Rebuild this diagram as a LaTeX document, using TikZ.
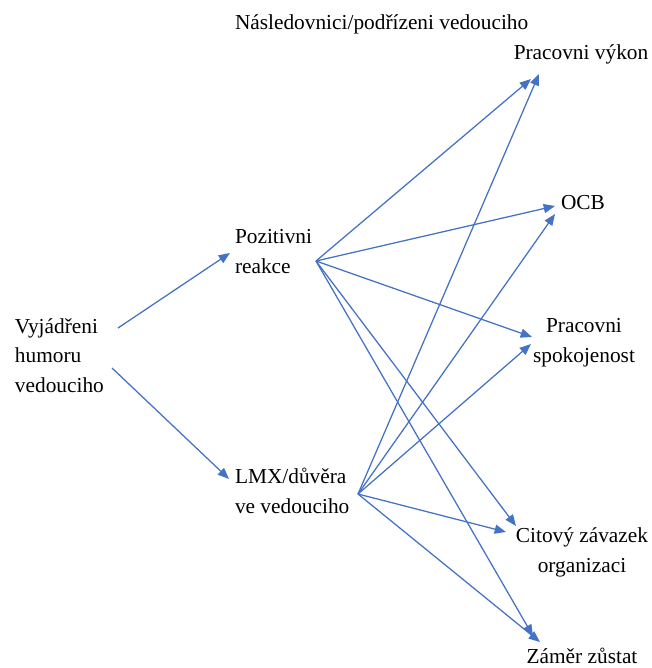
\documentclass[tikz,border=0pt]{standalone}
\usepackage{fontspec}
\setmainfont{Liberation Serif}
\usetikzlibrary{arrows.meta}
\definecolor{lineblue}{HTML}{4472C4}
\begin{document}
\begin{tikzpicture}[x=0.75pt,y=-0.75pt,
  lbl/.style={inner sep=0pt,outer sep=0pt,font=\fontsize{16}{21.9}\selectfont,anchor=base west,align=left},
  lblc/.style={inner sep=0pt,outer sep=0pt,font=\fontsize{16}{21.9}\selectfont,anchor=base,align=center},
  link/.style={draw=lineblue,line width=0.95pt,-{Triangle[length=8.5pt,width=6.8pt]}}]
\useasboundingbox (0,0) rectangle (651,668);
% labels (base anchor = baseline of last line)
\node[lbl] (title) at (235,29) {Následovnici/podřízeni vedouciho};
\node[lbl] (humor) at (15,392) {Vyjádřeni\\humoru\\vedouciho};
\node[lbl] (poz) at (235,273) {Pozitivni\\reakce};
\node[lbl] (lmx) at (235,513) {LMX/důvěra\\ve vedouciho};
\node[lblc] (vykon) at (581,59) {Pracovni výkon};
\node[lblc] (ocb) at (583,209) {OCB};
\node[lblc] (spok) at (584,362) {Pracovni\\spokojenost};
\node[lblc] (cit) at (582,572) {Citový závazek\\organizaci};
\node[lblc] (zamer) at (582,663) {Záměr zůstat};
% connector ends
\coordinate (humorA) at (118,328);
\coordinate (humorB) at (112,368);
\coordinate (pozIn) at (230,253);
\coordinate (lmxIn) at (229,479);
\coordinate (pozOut) at (316,261);
\coordinate (lmxOut) at (358,494);
\coordinate (vykonA) at (531,79);
\coordinate (vykonB) at (539,74);
\coordinate (ocbA) at (555,206);
\coordinate (ocbB) at (555,214);
\coordinate (spokA) at (532,337);
\coordinate (spokB) at (531,344);
\coordinate (citA) at (516,526);
\coordinate (citB) at (506,532);
\coordinate (zamerA) at (533,636);
\coordinate (zamerB) at (540,642);
% connectors
\draw[link] (humorA) -- (pozIn);
\draw[link] (humorB) -- (lmxIn);
\draw[link] (pozOut) -- (vykonA);
\draw[link] (pozOut) -- (ocbA);
\draw[link] (pozOut) -- (spokA);
\draw[link] (pozOut) -- (citA);
\draw[link] (pozOut) -- (zamerA);
\draw[link] (lmxOut) -- (vykonB);
\draw[link] (lmxOut) -- (ocbB);
\draw[link] (lmxOut) -- (spokB);
\draw[link] (lmxOut) -- (citB);
\draw[link] (lmxOut) -- (zamerB);
\end{tikzpicture}
\end{document}
